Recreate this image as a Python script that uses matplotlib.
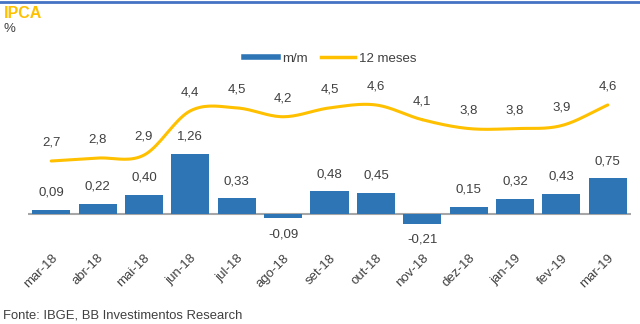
import numpy as np
import matplotlib
matplotlib.use("Agg")
import matplotlib.pyplot as plt
from matplotlib.lines import Line2D

months = ["mar-18", "abr-18", "mai-18", "jun-18", "jul-18", "ago-18", "set-18",
          "out-18", "nov-18", "dez-18", "jan-19", "fev-19", "mar-19"]
mm = [0.09, 0.22, 0.40, 1.26, 0.33, -0.09, 0.48, 0.45, -0.21, 0.15, 0.32, 0.43, 0.75]
m12 = [2.7, 2.8, 2.9, 4.4, 4.5, 4.2, 4.5, 4.6, 4.1, 3.8, 3.8, 3.9, 4.6]

BLUE = "#2E75B6"
ORANGE = "#FFC000"
TXT = "#404040"
plt.rcParams['font.family'] = ['Liberation Sans', 'DejaVu Sans']

W, H = 640, 324
fig = plt.figure(figsize=(6.4, 3.24), dpi=100)

def fy(p):
    return 1 - p / H

left, right = 28 / W, 631 / W
top_px, bot_px = 90, 245
ax = fig.add_axes([left, fy(bot_px), right - left, fy(top_px) - fy(bot_px)])
x = np.arange(len(months))

s1 = 47.6
ax.set_ylim(-(bot_px - 214) / s1, (214 - top_px) / s1)
ax.set_xlim(-0.5, len(months) - 0.5)
ax.bar(x, mm, width=0.82, color=BLUE, zorder=3)
ax.axhline(0, color="#A6A6A6", lw=1.5, zorder=2)
FS = 9.5
for xi, v in zip(x, mm):
    if v >= 0:
        ax.annotate(f"{v:.2f}".replace(".", ","), (xi, v), xytext=(0, 8),
                    textcoords="offset points", ha="center", va="bottom",
                    fontsize=FS, color=TXT)
    else:
        ax.annotate(f"{v:.2f}".replace(".", ","), (xi, v), xytext=(0, -7),
                    textcoords="offset points", ha="center", va="top",
                    fontsize=FS, color=TXT)

ax.set_xticks(x)
ax.set_xticklabels(months, rotation=45, ha="right", rotation_mode="anchor",
                   fontsize=FS, color=TXT)
ax.tick_params(axis="x", length=0, pad=5)
ax.set_yticks([])
for sp in ax.spines.values():
    sp.set_visible(False)

ax2 = ax.twinx()
s2 = 29.5
ax2.set_ylim(2.7 - (bot_px - 161) / s2, 2.7 + (161 - top_px) / s2)
pts = np.column_stack([x, m12]).astype(float)
ext = np.vstack([pts[0] * 2 - pts[1], pts, pts[-1] * 2 - pts[-2]])
cx, cy = [], []
for i in range(1, len(ext) - 2):
    p0, p1, p2, p3 = ext[i - 1], ext[i], ext[i + 1], ext[i + 2]
    t = np.linspace(0, 1, 20)[:, None]
    seg = 0.5 * ((2 * p1) + (-p0 + p2) * t + (2 * p0 - 5 * p1 + 4 * p2 - p3) * t ** 2
                 + (-p0 + 3 * p1 - 3 * p2 + p3) * t ** 3)
    cx.extend(seg[:, 0]); cy.extend(seg[:, 1])
ax2.plot(cx, cy, color=ORANGE, lw=2.2, zorder=4, solid_capstyle="round")
for xi, v in zip(x, m12):
    ax2.annotate(f"{v:.1f}".replace(".", ","), (xi, v), xytext=(0, 9),
                 textcoords="offset points", ha="center", va="bottom",
                 fontsize=FS, color=TXT)
ax2.set_yticks([])
for sp in ax2.spines.values():
    sp.set_visible(False)

handles = [Line2D([0], [0], color=BLUE, lw=4), Line2D([0], [0], color=ORANGE, lw=2.5)]
fig.legend(handles, ["m/m", "12 meses"], loc="center", bbox_to_anchor=(330 / W, fy(59)),
           ncol=2, frameon=False, fontsize=FS, handlelength=2.6, handletextpad=0.3,
           columnspacing=1.0, labelcolor=TXT)

fig.add_artist(Line2D([0, 1], [fy(1.5), fy(1.5)], color="#4472C4", lw=2))
fig.text(4 / W, fy(13), "IPCA", fontsize=11.5, fontweight="bold", color=ORANGE,
         va="center", ha="left")
fig.text(4 / W, fy(29), "%", fontsize=9.5, color=TXT, va="center", ha="left")
fig.text(3 / W, fy(316), "Fonte: IBGE, BB Investimentos Research", fontsize=9.4,
         color=TXT, va="center", ha="left")

fig.savefig("out.png", dpi=100)
